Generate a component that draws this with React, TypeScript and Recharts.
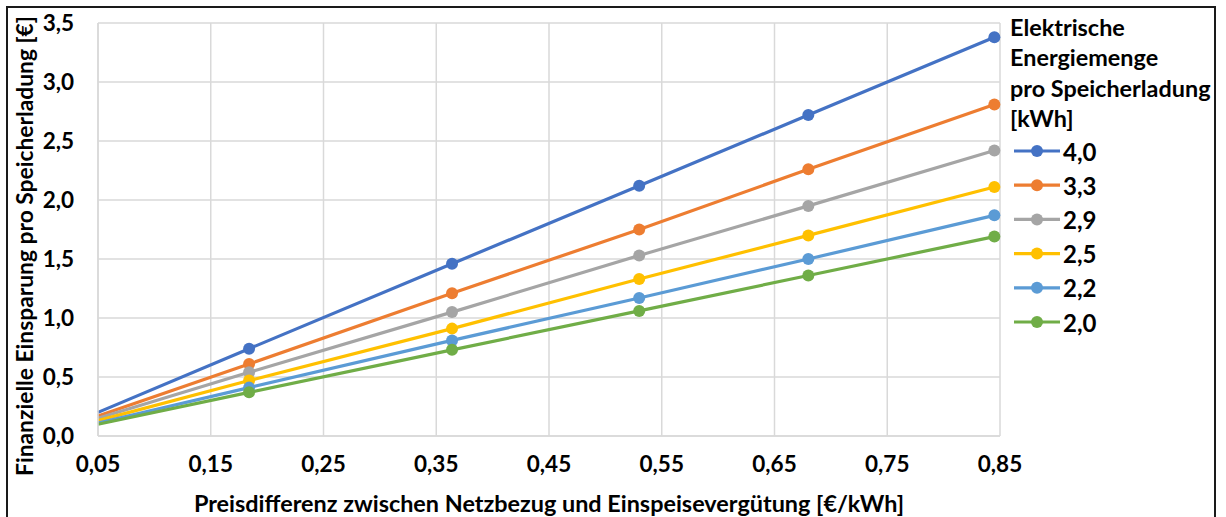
import { LineChart, Line, XAxis, YAxis, CartesianGrid } from "recharts";

// Preisdifferenz [€/kWh]
const priceDiff = [0.05, 0.184, 0.364, 0.53, 0.68, 0.845];

// Finanzielle Einsparung pro Speicherladung [€] je Energiemenge
const e40 = [0.2, 0.74, 1.46, 2.12, 2.72, 3.38];
const e33 = [0.17, 0.61, 1.21, 1.75, 2.26, 2.81];
const e29 = [0.15, 0.54, 1.05, 1.53, 1.95, 2.42];
const e25 = [0.13, 0.47, 0.91, 1.33, 1.7, 2.11];
const e22 = [0.11, 0.41, 0.81, 1.17, 1.5, 1.87];
const e20 = [0.1, 0.37, 0.73, 1.06, 1.36, 1.69];

const xTicks = [0.05, 0.15, 0.25, 0.35, 0.45, 0.55, 0.65, 0.75, 0.85];
const yTicks = [0, 0.5, 1, 1.5, 2, 2.5, 3, 3.5];

const series = [
  { key: "e40", label: "4,0", values: e40, color: "#4472C4" },
  { key: "e33", label: "3,3", values: e33, color: "#ED7D31" },
  { key: "e29", label: "2,9", values: e29, color: "#A5A5A5" },
  { key: "e25", label: "2,5", values: e25, color: "#FFC000" },
  { key: "e22", label: "2,2", values: e22, color: "#5B9BD5" },
  { key: "e20", label: "2,0", values: e20, color: "#70AD47" },
];

const data = priceDiff.map((x, i) => {
  const row: Record<string, number> = { x };
  series.forEach((s) => (row[s.key] = s.values[i]));
  return row;
});

const font = "Lato, 'Open Sans', sans-serif";
const tickStyle = { fontSize: 22.5, fontWeight: 700, fill: "#000", fontFamily: font };
const fmt = (d: number) => d.toFixed(2).replace(".", ",");
const fmtY = (d: number) => d.toFixed(1).replace(".", ",");

const legendTitle = ["Elektrische", "Energiemenge", "pro Speicherladung", "[kWh]"];

function makeDot(color: string) {
  return (props: any) => {
    const { cx, cy, index } = props;
    if (index === 0) return <g key={`d${index}`} />;
    return <circle key={`d${index}`} cx={cx} cy={cy} r={6} fill={color} stroke="none" />;
  };
}

export default function App() {
  return (
    <div style={{ position: "fixed", left: 0, top: 0, width: 1226, height: 517, background: "#fff" }}>
      <LineChart
        width={1226}
        height={517}
        data={data}
        margin={{ top: 23, right: 226, bottom: 21, left: 8 }}
      >
        <CartesianGrid stroke="#d9d9d9" strokeWidth={1.5} verticalValues={xTicks} horizontalValues={yTicks} />
        <XAxis
          dataKey="x"
          type="number"
          domain={[0.05, 0.85]}
          ticks={xTicks}
          tickFormatter={fmt}
          tick={tickStyle}
          axisLine={{ stroke: "#d9d9d9", strokeWidth: 1.5 }}
          tickLine={false}
          tickSize={0}
          tickMargin={20}
          height={60}
          interval={0}
        />
        <YAxis
          type="number"
          domain={[0, 3.5]}
          ticks={yTicks}
          tickFormatter={fmtY}
          tick={tickStyle}
          axisLine={{ stroke: "#d9d9d9", strokeWidth: 1.5 }}
          tickLine={false}
          tickSize={0}
          tickMargin={24}
          width={90}
          interval={0}
        />
        {series.map((s) => (
          <Line
            key={s.key}
            dataKey={s.key}
            type="linear"
            stroke={s.color}
            strokeWidth={3.2}
            dot={makeDot(s.color)}
            activeDot={false}
            isAnimationActive={false}
          />
        ))}
      </LineChart>
      <svg
        width={1226}
        height={517}
        style={{ position: "absolute", left: 0, top: 0, pointerEvents: "none" }}
      >
        <rect x={7} y={7} width={1208} height={520} fill="none" stroke="#1a1a1a" strokeWidth={2} />
        <text
          x={0}
          y={0}
          transform="translate(24,246) rotate(-90)"
          textAnchor="middle"
          dominantBaseline="central"
          fontFamily={font}
          fontWeight={700}
          fontSize={22.8}
        >
          Finanzielle Einsparung pro Speicherladung [€]
        </text>
        <text
          x={549}
          y={503}
          textAnchor="middle"
          dominantBaseline="central"
          fontFamily={font}
          fontWeight={700}
          fontSize={23.4}
        >
          Preisdifferenz zwischen Netzbezug und Einspeisevergütung [€/kWh]
        </text>
        {legendTitle.map((t, i) => (
          <text
            key={t}
            x={1010}
            y={27 + i * 30.3}
            dominantBaseline="central"
            fontFamily={font}
            fontWeight={700}
            fontSize={23.4}
          >
            {t}
          </text>
        ))}
        {series.map((s, i) => {
          const y = 151 + i * 34.2;
          return (
            <g key={s.key}>
              <line x1={1014} x2={1060} y1={y} y2={y} stroke={s.color} strokeWidth={3.2} />
              <circle cx={1037} cy={y} r={6} fill={s.color} />
              <text
                x={1063}
                y={y}
                dominantBaseline="central"
                fontFamily={font}
                fontWeight={700}
                fontSize={24}
              >
                {s.label}
              </text>
            </g>
          );
        })}
      </svg>
    </div>
  );
}
